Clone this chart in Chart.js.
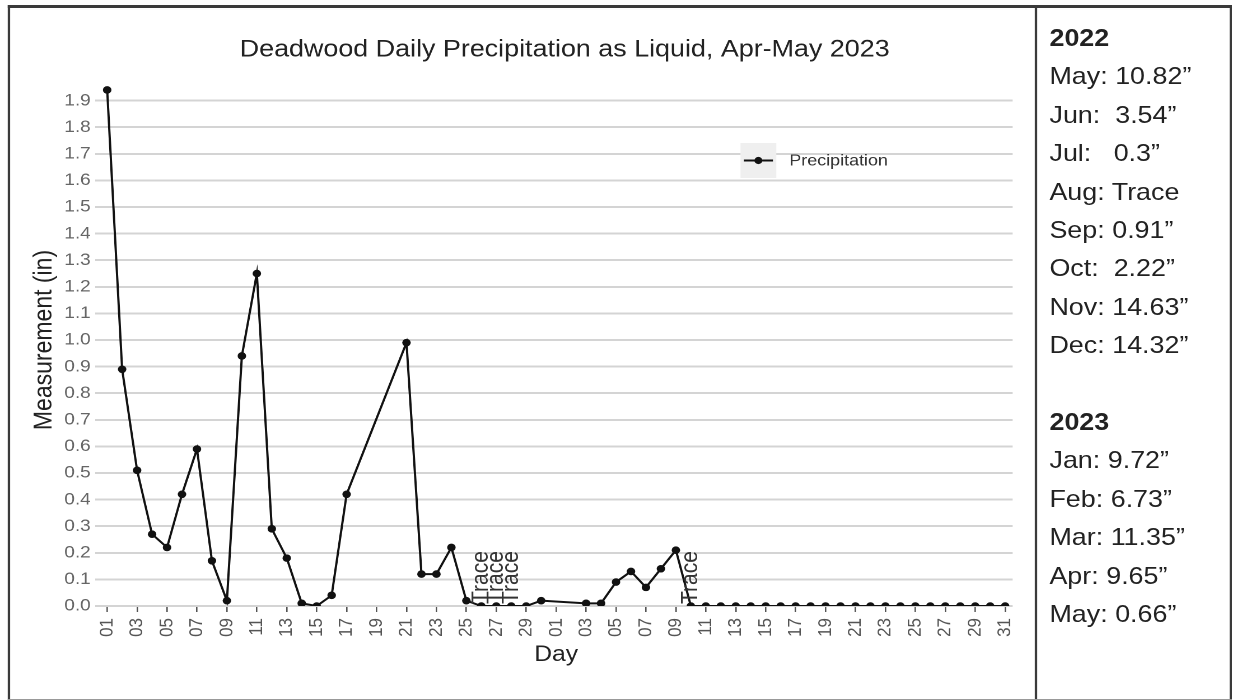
<!DOCTYPE html>
<html>
<head>
<meta charset="utf-8">
<title>Deadwood Daily Precipitation</title>
<script src="https://cdn.jsdelivr.net/npm/chart.js@4.4.1/dist/chart.umd.min.js"></script>
<style>
  html, body { margin: 0; padding: 0; background: #fff; }
  body { width: 1233px; height: 700px; overflow: hidden; position: relative; font-family: "Liberation Sans", Arial, sans-serif; }
  /* the reference image is stretched sideways, so the whole sheet is too */
  #stage { position: absolute; left: 0; top: 0; width: 1101px; height: 700px; transform: scaleX(1.12); transform-origin: 0 0; }
  .rule { position: absolute; background: #3a3a3a; }
  #chartBox { position: absolute; left: 9px; top: 7px; width: 915px; height: 691px; }
  #side { position: absolute; left: 937px; top: 19px; font-size: 24px; line-height: 38.4px; color: #222; white-space: pre; }
  #side b { font-weight: bold; }
</style>
</head>
<body>
<div id="stage">
  <div class="rule" style="left:6.7px; top:5px; width:1093.5px; height:2.5px;"></div>
  <div class="rule" style="left:6.7px; top:5px; width:2.2px; height:695px;"></div>
  <div class="rule" style="left:924.1px; top:5px; width:2.2px; height:695px;"></div>
  <div class="rule" style="left:1098.2px; top:5px; width:1.8px; height:695px;"></div>
  <div class="rule" style="left:6.7px; top:698.5px; width:1093.5px; height:1.5px; background:#999;"></div>
  <div id="chartBox"><canvas id="chart"></canvas></div>
  <div id="side"></div>
</div>
<script>
// --- DADOS ---
const chartTitle = 'Deadwood Daily Precipitation as Liquid, Apr-May 2023';
const aprilDays = ['01','02','03','04','05','06','07','08','09','10','11','12','13','14','15',
                   '16','17','18','19','20','21','22','23','24','25','26','27','28','29','30'];
const mayDays = ['01','02','03','04','05','06','07','08','09','10','11','12','13','14','15','16',
                 '17','18','19','20','21','22','23','24','25','26','27','28','29','30','31'];
// null = no report that day (line joins across it)
const aprilPrecip = [1.94, 0.89, 0.51, 0.27, 0.22, 0.42, 0.59, 0.17, 0.02, 0.94,
                     1.25, 0.29, 0.18, 0.01, 0.00, 0.04, 0.42, null, null, null,
                     0.99, 0.12, 0.12, 0.22, 0.02, 0.00, 0.00, 0.00, 0.00, 0.02];
const mayPrecip = [null, null, 0.01, 0.01, 0.09, 0.13, 0.07, 0.14, 0.21, 0.00,
                   0.00, 0.00, 0.00, 0.00, 0.00, 0.00, 0.00, 0.00, 0.00, 0.00,
                   0.00, 0.00, 0.00, 0.00, 0.00, 0.00, 0.00, 0.00, 0.00, 0.00, 0.00];
const aprilTrace = ['26', '27', '28'];
const mayTrace = ['10'];

const summary2022 = ['May: 10.82\u201D', 'Jun:  3.54\u201D', 'Jul:   0.3\u201D', 'Aug: Trace',
                     'Sep: 0.91\u201D', 'Oct:  2.22\u201D', 'Nov: 14.63\u201D', 'Dec: 14.32\u201D'];
const summary2023 = ['Jan: 9.72\u201D', 'Feb: 6.73\u201D', 'Mar: 11.35\u201D', 'Apr: 9.65\u201D', 'May: 0.66\u201D'];

const FONT = '"Liberation Sans", Arial, sans-serif';

const labels = aprilDays.concat(mayDays);
const values = aprilPrecip.concat(mayPrecip);
const traceFlags = labels.map((d, i) => i < aprilDays.length ? aprilTrace.includes(d) : mayTrace.includes(d));

// painel lateral
document.getElementById('side').innerHTML =
  '<b>2022</b>\n' + summary2022.join('\n') + '\n\n<b>2023</b>\n' + summary2023.join('\n');

// título, legenda e rótulos "Trace"
const extras = {
  id: 'extras',
  afterDraw(chart) {
    const ctx = chart.ctx, area = chart.chartArea;
    ctx.save();
    ctx.fillStyle = '#222';
    ctx.font = '24px ' + FONT;
    ctx.textAlign = 'center';
    ctx.textBaseline = 'middle';
    ctx.fillText(chartTitle, (area.left + area.right) / 2 + 7.6, 43);

    const lx = area.right - 243, ly = area.top + 69;
    ctx.fillStyle = '#efefef';
    ctx.fillRect(lx, ly, 32, 35);
    ctx.strokeStyle = '#111';
    ctx.lineWidth = 2;
    ctx.beginPath(); ctx.moveTo(lx + 3, ly + 17.5); ctx.lineTo(lx + 29, ly + 17.5); ctx.stroke();
    ctx.fillStyle = '#111';
    ctx.beginPath(); ctx.arc(lx + 16, ly + 17.5, 3.6, 0, Math.PI * 2); ctx.fill();
    ctx.fillStyle = '#333';
    ctx.font = '16px ' + FONT;
    ctx.textAlign = 'left';
    ctx.fillText('Precipitation', lx + 43.6, ly + 18);

    const meta = chart.getDatasetMeta(0);
    ctx.font = '21px ' + FONT;
    ctx.fillStyle = '#333';
    meta.data.forEach((pt, i) => {
      if (!traceFlags[i]) return;
      ctx.save();
      ctx.translate(pt.x, pt.y - 2);
      ctx.rotate(-Math.PI / 2);
      ctx.textAlign = 'left';
      ctx.textBaseline = 'middle';
      ctx.fillText('Trace', 0, 0);
      ctx.restore();
    });
    ctx.restore();
  }
};

new Chart(document.getElementById('chart'), {
  type: 'line',
  data: {
    labels: labels,
    datasets: [{
      label: 'Precipitation',
      data: values,
      borderColor: '#111',
      backgroundColor: '#111',
      borderWidth: 2,
      pointRadius: 3.8,
      pointBorderWidth: 0,
      spanGaps: true,
      tension: 0
    }]
  },
  options: {
    responsive: true,
    maintainAspectRatio: false,
    animation: false,
    devicePixelRatio: 2,
    events: [],
    layout: { padding: { top: 67, right: 18, bottom: 0, left: 0 }, autoPadding: false },
    plugins: { legend: { display: false }, tooltip: { enabled: false }, title: { display: false } },
    scales: {
      x: {
        type: 'category',
        offset: true,
        afterFit: (s) => { s.height = 92; },
        grid: { drawOnChartArea: false, drawTicks: true, tickLength: 6, color: '#555', lineWidth: 1.3 },
        border: { display: false },
        ticks: {
          autoSkip: false, maxRotation: 90, minRotation: 90, padding: 6,
          color: '#555', font: { family: FONT, size: 17 },
          callback: function (v, i) { return i % 2 === 0 ? this.getLabelForValue(v) : null; }
        },
        title: { display: true, text: 'Day', color: '#222', font: { family: FONT, size: 22 }, padding: { top: 0, bottom: 30 } }
      },
      y: {
        min: 0, max: 2.0,
        afterFit: (s) => { s.width = 80; },
        grid: {
          color: (c) => c.tick && c.tick.value > 1.95 ? 'rgba(0,0,0,0)' : '#d4d4d4',
          lineWidth: 2, tickLength: 4
        },
        border: { display: false },
        ticks: {
          stepSize: 0.1, padding: 4, color: '#666', font: { family: FONT, size: 17 },
          callback: (v) => v > 1.95 ? '' : v.toFixed(1)
        },
        title: { display: true, text: 'Measurement (in)', color: '#222', font: { family: FONT, size: 23 }, padding: { top: 17, bottom: 0 } }
      }
    }
  },
  plugins: [extras]
});
</script>
</body>
</html>
